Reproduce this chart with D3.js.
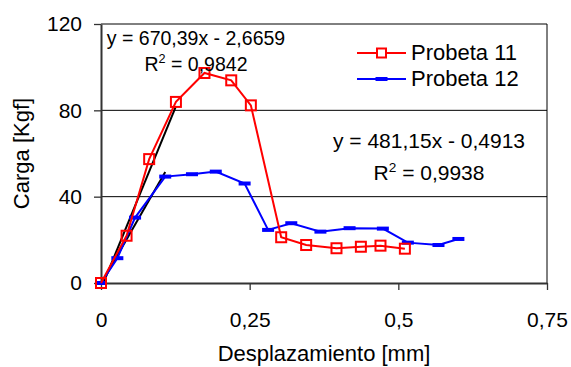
<!DOCTYPE html>
<html><head><meta charset="utf-8">
<script src="https://cdn.jsdelivr.net/npm/d3@7"></script>
<style>
html,body{margin:0;padding:0;background:#fff;}
text{font-family:"Liberation Sans",Arial,Helvetica,sans-serif;fill:#000;}
</style></head>
<body>
<svg id="chart" width="571" height="367"></svg>
<script>
// ---- data ----
const p11X = [0, 0.043, 0.081, 0.126, 0.174, 0.219, 0.252, 0.303, 0.345, 0.396, 0.437, 0.470, 0.511];
const p11Y = [0, 21.9, 57.4, 83.9, 97.3, 93.9, 82.3, 21.2, 17.6, 16.1, 16.8, 17.3, 15.9];
const p12X = [0, 0.0275, 0.0573, 0.108, 0.153, 0.193, 0.2415, 0.281, 0.320, 0.369, 0.418, 0.474, 0.516, 0.5675, 0.601];
const p12Y = [0, 11.5, 30.3, 49.3, 50.4, 51.6, 46.1, 24.6, 27.7, 23.8, 25.4, 25.2, 18.7, 17.6, 20.4];
const seriesNames = ["Probeta 11", "Probeta 12"];
const xTicks = [0, 0.25, 0.5, 0.75];
const xTickLabels = ["0", "0,25", "0,5", "0,75"];
const yTicks = [0, 40, 80, 120];
const yTickLabels = ["0", "40", "80", "120"];
// trendlines: slope, intercept, fitted x range (first 4 points)
const trend11 = {m: 670.39, b: -2.6659, x0: 0, x1: 0.126, eq: "y = 670,39x - 2,6659", r2: "0,9842"};
const trend12 = {m: 481.15, b: -0.4913, x0: 0, x1: 0.108, eq: "y = 481,15x - 0,4913", r2: "0,9938"};

const svg = d3.select("#chart");
const L = 101, R = 547, T = 24, B = 283;
const x = d3.scaleLinear().domain([0, 0.75]).range([L, R]);
const y = d3.scaleLinear().domain([0, 120]).range([B, T]);

// clip
svg.append("clipPath").attr("id","clip").append("rect")
  .attr("x", L).attr("y", T).attr("width", R - L).attr("height", B - T);

// gridlines
svg.append("g").selectAll("line").data(yTicks.filter(d => d > 0)).join("line")
  .attr("x1", L).attr("x2", R).attr("y1", d => y(d)).attr("y2", d => y(d))
  .attr("stroke", "#000").attr("stroke-width", 1);
// right border
svg.append("line").attr("x1", R).attr("x2", R).attr("y1", T).attr("y2", B)
  .attr("stroke", "#000").attr("stroke-width", 1);

// axes
const xAxis = svg.append("g").attr("transform", `translate(0,${B})`)
  .call(d3.axisBottom(x).tickValues(xTicks).tickFormat((d, i) => xTickLabels[i]).tickSize(7).tickSizeOuter(0).tickPadding(22));
const yAxis = svg.append("g").attr("transform", `translate(${L},0)`)
  .call(d3.axisLeft(y).tickValues(yTicks).tickFormat((d, i) => yTickLabels[i]).tickSize(7).tickSizeOuter(0).tickPadding(12));
[xAxis, yAxis].forEach(g => {
  g.selectAll(".domain").attr("stroke", "#333").attr("stroke-width", 2);
  g.selectAll(".tick line").attr("stroke", "#333").attr("stroke-width", 1.3);
  g.selectAll(".tick text").attr("font-size", 21).attr("font-family", "\"Liberation Sans\",Arial,sans-serif").attr("fill", "#000");
});

// axis titles
svg.append("text").attr("x", (L + R) / 2).attr("y", 361).attr("text-anchor", "middle")
  .attr("font-size", 22).text("Desplazamiento [mm]");
svg.append("text").attr("transform", `translate(29,${(T + B) / 2}) rotate(-90)`).attr("text-anchor", "middle")
  .attr("font-size", 22).text("Carga [Kgf]");

const plot = svg.append("g").attr("clip-path", "url(#clip)");
const line = d3.line().x(d => x(d[0])).y(d => y(d[1]));
const d11 = p11X.map((v, i) => [v, p11Y[i]]);
const d12 = p12X.map((v, i) => [v, p12Y[i]]);

// series 12
svg.append("path").datum(d12).attr("d", line).attr("fill", "none").attr("stroke", "#0000ff").attr("stroke-width", 2);
svg.append("g").selectAll("rect").data(d12).join("rect")
  .attr("x", d => x(d[0]) - 6).attr("y", d => y(d[1]) - 2).attr("width", 12).attr("height", 4)
  .attr("fill", "#0000ff");
// series 11
svg.append("path").datum(d11).attr("d", line).attr("fill", "none").attr("stroke", "#ff0000").attr("stroke-width", 2);
svg.append("g").selectAll("rect").data(d11).join("rect")
  .attr("x", d => x(d[0]) - 5).attr("y", d => y(d[1]) - 5).attr("width", 10).attr("height", 10)
  .attr("fill", "none").attr("stroke", "#ff0000").attr("stroke-width", 2);

// trendlines
[trend11, trend12].forEach(t => {
  plot.append("line")
    .attr("x1", x(t.x0)).attr("y1", y(t.m * t.x0 + t.b))
    .attr("x2", x(t.x1)).attr("y2", y(t.m * t.x1 + t.b))
    .attr("stroke", "#000").attr("stroke-width", 2);
});

// equation labels
function eqLabel(t, cx, y1, y2, fs) {
  svg.append("text").attr("x", cx).attr("y", y1).attr("text-anchor", "middle").attr("font-size", fs).text(t.eq);
  const r = svg.append("text").attr("x", cx).attr("y", y2).attr("text-anchor", "middle").attr("font-size", fs);
  r.append("tspan").text("R");
  r.append("tspan").attr("font-size", fs * 0.65).attr("dy", -8).text("2");
  r.append("tspan").attr("dy", 8).text(" = " + t.r2);
}
eqLabel(trend11, 196, 45, 71, 19.5);
eqLabel(trend12, 429, 148, 180, 21);

// legend
const leg = svg.append("g");
const legItems = [
  {name: seriesNames[0], color: "#ff0000", yy: 53, marker: "square"},
  {name: seriesNames[1], color: "#0000ff", yy: 79, marker: "dash"}
];
legItems.forEach(it => {
  leg.append("line").attr("x1", 357).attr("x2", 406).attr("y1", it.yy).attr("y2", it.yy)
    .attr("stroke", it.color).attr("stroke-width", 2);
  if (it.marker === "square") {
    leg.append("rect").attr("x", 381.5 - 4.5).attr("y", it.yy - 4.5).attr("width", 9).attr("height", 9)
      .attr("fill", "#fff").attr("stroke", it.color).attr("stroke-width", 2);
  } else {
    leg.append("rect").attr("x", 381.5 - 6).attr("y", it.yy - 2).attr("width", 12).attr("height", 4).attr("fill", it.color);
  }
  leg.append("text").attr("x", 411).attr("y", it.yy + 7).attr("font-size", 22).text(it.name);
});
</script>
</body></html>
